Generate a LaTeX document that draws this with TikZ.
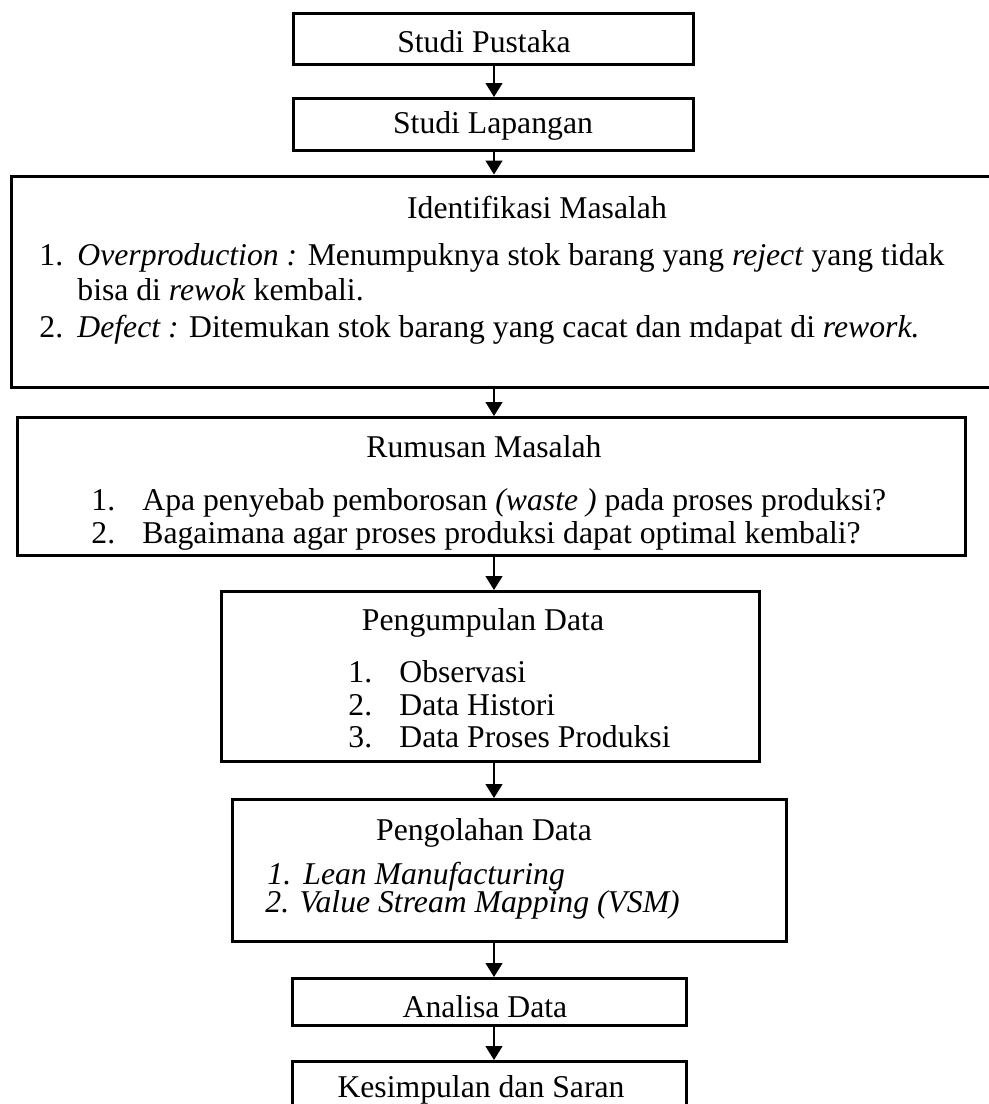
\documentclass[tikz,border=0pt]{standalone}
\usepackage{fontspec}
\setmainfont{Liberation Serif}
\usepackage{tikz}
\usetikzlibrary{positioning, arrows.meta, calc}

\begin{document}
\begin{tikzpicture}[x=0.5pt, y=-0.5pt,
        font=\fontsize{15.85pt}{19pt}\selectfont,
        box/.style={draw, rectangle, line width=1.5pt, inner sep=0pt},
        txt/.style={inner sep=0pt, anchor=base west},
        head/.style={inner sep=0pt, anchor=base},
        arr/.style={-{Triangle[length=7pt, width=8.5pt]}, line width=0.65pt}
    ]
    \useasboundingbox (0,0) rectangle (989,1104);
    \coordinate (spine) at (494,0);

    % Boxes
    \node[box, minimum width=200pt, minimum height=25.5pt] (pustaka) at (493.5,38.5) {};
    \node[box, minimum width=200pt, minimum height=26pt] (lapangan) at (493.5,124.5) {};
    \node[box, minimum width=494.25pt, minimum height=105.5pt] (identifikasi) at (505.75,281.5) {};
    \node[box, minimum width=474pt, minimum height=69pt] (rumusan) at (491.5,486.5) {};
    \node[box, minimum width=269pt, minimum height=85pt] (pengumpulan) at (490.5,676.5) {};
    \node[box, minimum width=277pt, minimum height=71pt] (pengolahan) at (509.5,870.5) {};
    \node[box, minimum width=197pt, minimum height=23.5pt] (analisa) at (489.5,1002) {};
    \node[box, minimum width=197pt, minimum height=28.5pt] (kesimpulan) at (489.5,1090) {};

    % Studi
    \node[head] (pustakaT) at (484,52) {Studi Pustaka};
    \node[head] (lapanganT) at (493,133) {Studi Lapangan};

    % Identifikasi Masalah
    \node[head] (identT) at (537,218) {Identifikasi Masalah};
    \node[txt] (identN1) at (39,265) {1.};
    \node[txt] (identI1) at (77,265) {\textit{Overproduction :} Menumpuknya stok barang yang \textit{reject} yang tidak};
    \node[txt] (identI1b) at (77,300) {bisa di \textit{rewok} kembali.};
    \node[txt] (identN2) at (39,337) {2.};
    \node[txt] (identI2) at (77,337) {\textit{Defect :} Ditemukan stok barang yang cacat dan mdapat di \textit{rework.}};

    % Rumusan Masalah
    \node[head] (rumusanT) at (484,457) {Rumusan Masalah};
    \node[txt] (rumusanN1) at (91,510) {1.};
    \node[txt] (rumusanI1) at (142,510) {Apa penyebab pemborosan \textit{(waste )} pada proses produksi?};
    \node[txt] (rumusanN2) at (91,543) {2.};
    \node[txt] (rumusanI2) at (142,543) {Bagaimana agar proses produksi dapat optimal kembali?};

    % Pengumpulan Data
    \node[head] (pengumpulanT) at (483,630) {Pengumpulan Data};
    \node[txt] (pengumpulanN1) at (348,682) {1.};
    \node[txt] (pengumpulanI1) at (399,682) {Observasi};
    \node[txt] (pengumpulanN2) at (348,715) {2.};
    \node[txt] (pengumpulanI2) at (399,715) {Data Histori};
    \node[txt] (pengumpulanN3) at (348,747) {3.};
    \node[txt] (pengumpulanI3) at (399,747) {Data Proses Produksi};

    % Pengolahan Data
    \node[head] (pengolahanT) at (484,840) {Pengolahan Data};
    \node[txt] (pengolahanN1) at (267,884) {\textit{1.}};
    \node[txt] (pengolahanI1) at (303,884) {\textit{Lean Manufacturing}};
    \node[txt] (pengolahanI2) at (265,912) {\textit{2. Value Stream Mapping (VSM)}};

    % Analisa, Kesimpulan
    \node[head] (analisaT) at (485,1017) {Analisa Data};
    \node[head] (kesimpulanT) at (481,1097) {Kesimpulan dan Saran};

    % Arrows
    \draw[arr] (pustaka.south -| spine) -- (lapangan.north -| spine);
    \draw[arr] (lapangan.south -| spine) -- (identifikasi.north -| spine);
    \draw[arr] (identifikasi.south -| spine) -- (rumusan.north -| spine);
    \draw[arr] (rumusan.south -| spine) -- (pengumpulan.north -| spine);
    \draw[arr] (pengumpulan.south -| spine) -- (pengolahan.north -| spine);
    \draw[arr] (pengolahan.south -| spine) -- (analisa.north -| spine);
    \draw[arr] (analisa.south -| spine) -- (kesimpulan.north -| spine);

\end{tikzpicture}
\end{document}
